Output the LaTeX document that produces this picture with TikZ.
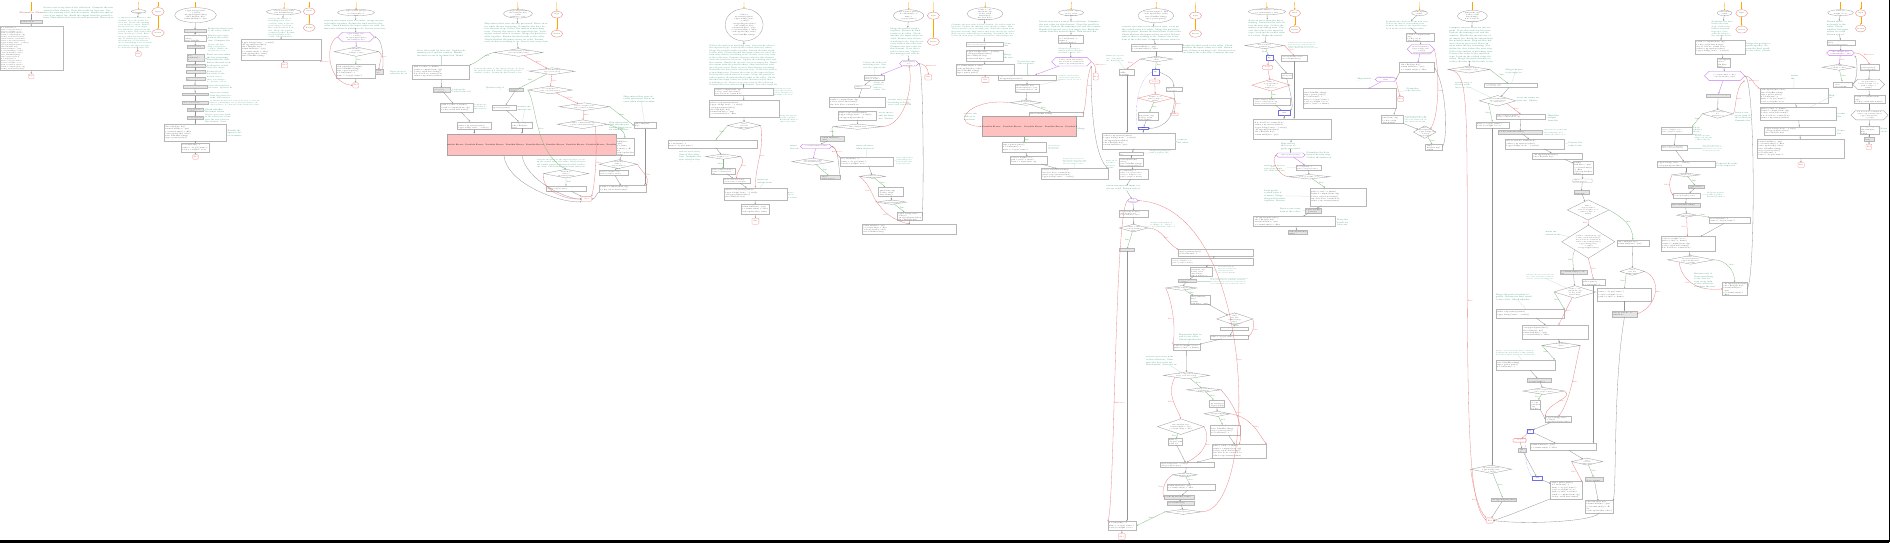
\documentclass[tikz,border=0pt]{standalone}
\usepackage{fontspec}
\usetikzlibrary{arrows.meta,shapes.geometric}
\definecolor{cmt}{RGB}{60,150,110}
\definecolor{gt}{RGB}{30,130,30}
\definecolor{ft}{RGB}{225,80,80}
\definecolor{vio}{RGB}{195,120,235}
\definecolor{pinkf}{RGB}{255,192,192}
\definecolor{blu}{RGB}{110,110,235}
\definecolor{org}{RGB}{255,165,0}
\newcount\mycla \newcount\myclb \newcount\myclc
\newcommand\plc[1]{\ifcase#1\relax result = compute(item, cfg)\or for key, val in data.items():\or if node is None: return None\or values = np.asarray(values)\or logger.debug("state: " + str(s))\or out.append(parse(line))\or idx = find(arr, key)\or return build(tree, opts)\or y = transform(x) + offset\or cache.update(key, value)\or raise ValueError(msg)\or args = parser.parse()\or n = len(items) - 1\or name = obj.get("name")\or total += weight * score\or path = join(root, fname)\fi}
\newcommand\plm[1]{\ifcase#1\relax Check whether the input values are valid.\or Return early if there is nothing to do.\or Iterate over every item of the collection.\or Compute the new value for this element.\or Store the result for later use.\or Update the running total and the counter.\or Handle the special case of an empty list.\or Build the output from the parsed tokens.\or Skip entries that were already processed.\or Raise an error when the key is missing.\or Normalise the data before the next step.\or Collect the indices of matching rows.\or Convert the value to the expected type.\or Look up the cached value if it exists.\or Merge the partial results together.\or Return the final result to the caller.\fi}
\def\clnext{\global\advance\myclc 1 \myclb=\myclc \divide\myclb 16 \multiply\myclb -16 \advance\myclb\myclc \plx{\myclb}\advance\mycla -1 \ifnum\mycla>0 \expandafter\clsep\fi}
\def\clsep{\clsepx\clnext}
\newcommand\codelines[1]{\let\plx\plc\def\clsepx{\\}\mycla=#1\relax\clnext}
\newcommand\cmtlines[1]{\let\plx\plm\def\clsepx{ }\mycla=#1\relax\clnext}
\newcommand\sz[4]{\pgfmathsetmacro\bw{((#3)-(#1))*0.34758}\pgfmathsetmacro\bh{((#4)-(#2))*0.34758}}
\tikzset{
 box/.style={rectangle,draw=black!28,line width=0.3pt,fill=white,inner sep=0pt,outer sep=0pt},
 gbox/.style={fill=black!10},
 dia/.style={shape=diamond,draw=black!40,line width=0.3pt,fill=white,inner sep=0pt,outer sep=0pt},
 ell/.style={shape=ellipse,draw=black!40,line width=0.3pt,fill=white,inner sep=0pt,outer sep=0pt},
 txt/.style={anchor=north west,inner sep=0.8pt,align=left,text=black!80},
 ctr/.style={anchor=center,inner sep=0pt,align=center,text=black!80},
 ctxt/.style={anchor=north west,inner sep=0pt,align=left,text=cmt},
 ar/.style={-{Stealth[length=1.6pt,width=1.4pt]},line width=0.3pt,draw=black!42},
 tr/.style={ar,draw=gt!55},
 fa/.style={ar,draw=ft!70},
 va/.style={ar,draw=vio},
 og/.style={ar,draw=org,line width=0.3pt},
 cl/.style={draw=cmt!30,line width=0.25pt},
 tl/.style={font={\fontsize{1.6}{1.8}\selectfont},text=gt,inner sep=0.4pt},
 fl/.style={font={\fontsize{1.6}{1.8}\selectfont},text=ft,inner sep=0.4pt},
 pe/.style={font={\fontsize{1.8}{2}\selectfont\bfseries},text=black!80,inner sep=0pt},
}
\newcommand\bxn[7][]{\sz{#3}{#4}{#5}{#6}%
\pgfmathsetmacro\lh{min((\bh-1.4)/#7,2.3)}\pgfmathsetmacro\fs{0.75*\lh}\pgfmathsetmacro\tw{max(\bw-2.4,2)}%
\node[box,minimum width=\bw pt,minimum height=\bh pt,#1,path picture={\node[txt,text width=\tw pt,font={\fontsize{\fs}{\lh}\selectfont}] at (path picture bounding box.north west) {\codelines{#7}};}] (#2) at ({((#3)+(#5))/2},{((#4)+(#6))/2}) {};}
\newcommand\dmn[7][]{\sz{#3}{#4}{#5}{#6}%
\pgfmathsetmacro\lh{min(0.5*\bh/#7,2.0)}\pgfmathsetmacro\fs{0.75*\lh}\pgfmathsetmacro\tw{0.5*\bw}%
\node[dia,minimum width=\bw pt,minimum height=\bh pt,#1,path picture={\node[ctr,text width=\tw pt,font={\fontsize{\fs}{\lh}\selectfont}] at (path picture bounding box.center) {\codelines{#7}};}] (#2) at ({((#3)+(#5))/2},{((#4)+(#6))/2}) {};}
\newcommand\eln[7][]{\sz{#3}{#4}{#5}{#6}%
\pgfmathsetmacro\lh{min(0.7*\bh/#7,2.2)}\pgfmathsetmacro\fs{0.75*\lh}\pgfmathsetmacro\tw{0.7*\bw}%
\node[ell,minimum width=\bw pt,minimum height=\bh pt,#1,path picture={\node[ctr,text width=\tw pt,font={\fontsize{\fs}{\lh}\selectfont}] at (path picture bounding box.center) {\codelines{#7}};}] (#2) at ({((#3)+(#5))/2},{((#4)+(#6))/2}) {};}
\newcommand\hxn[7][]{\sz{#3}{#4}{#5}{#6}%
\pgfmathsetmacro\hd{min(\bh/2,\bw/5)}\pgfmathsetmacro\lh{min(0.8*\bh/#7,2.0)}\pgfmathsetmacro\fs{0.75*\lh}\pgfmathsetmacro\tw{\bw-2*\hd}%
\node[inner sep=0pt,outer sep=0pt,minimum width=\bw pt,minimum height=\bh pt] (#2) at ({((#3)+(#5))/2},{((#4)+(#6))/2}) {};
\filldraw[fill=white,draw=vio,line width=0.35pt,#1,path picture={\node[ctr,text width=\tw pt,font={\fontsize{\fs}{\lh}\selectfont}] at (path picture bounding box.center) {\codelines{#7}};}] (#2.west) -- ([xshift=\hd pt]#2.north west) -- ([xshift=-\hd pt]#2.north east) -- (#2.east) -- ([xshift=-\hd pt]#2.south east) -- ([xshift=\hd pt]#2.south west) -- cycle;}
\newcommand\cmn[6]{\sz{#2}{#3}{#4}{#5}%
\pgfmathsetmacro\lh{min(\bh/#6,2.6)}\pgfmathsetmacro\fs{0.78*\lh}\pgfmathtruncatemacro\nn{2+\bw*\bh/(\fs*\lh*16)}%
\node[inner sep=0pt,outer sep=0pt,minimum width=\bw pt,minimum height=\bh pt] (#1) at ({((#2)+(#4))/2},{((#3)+(#5))/2}) {};
\begin{scope}\clip (#1.north west) rectangle ([yshift=-0.3pt]#1.south east);
\node[ctxt,text width=\bw pt,font={\fontsize{\fs}{\lh}\selectfont}] at (#1.north west) {\cmtlines{\nn}};\end{scope}}
\newcommand\cmt[7]{\cmn{#1}{#2}{#3}{#4}{#5}{#6}\draw[cl] (#1) -- (#7);}
\newcommand\rov[6]{\sz{#2}{#3}{#4}{#5}\node[ellipse,draw=ft!70,line width=0.35pt,fill=white,inner sep=0pt,minimum width=\bw pt,minimum height=\bh pt,font={\fontsize{1.6}{1.9}\selectfont},text=gt,align=center] (#1) at ({((#2)+(#4))/2},{((#3)+(#5))/2}) {#6};}
\newcommand\finn[5]{\sz{#2}{#3}{#4}{#5}\node[draw=ft!60,line width=0.3pt,rounded corners=0.8pt,fill=white,inner sep=0pt,minimum width=\bw pt,minimum height=\bh pt,font={\fontsize{1.7}{2}\selectfont},text=ft] (#1) at ({((#2)+(#4))/2},{((#3)+(#5))/2}) {End};}
\newcommand\smn[7][]{\sz{#3}{#4}{#5}{#6}\node[draw=black!30,line width=0.3pt,fill=white,inner sep=0pt,minimum width=\bw pt,minimum height=\bh pt,font={\fontsize{1.6}{1.9}\selectfont},#1] (#2) at ({((#3)+(#5))/2},{((#4)+(#6))/2}) {#7};}
\newcommand\bandn[5]{\sz{#2}{#3}{#4}{#5}\node[draw=black!35,line width=0.4pt,fill=pinkf,inner sep=0pt,minimum width=\bw pt,minimum height=\bh pt] (#1) at ({((#2)+(#4))/2},{((#3)+(#5))/2}) {};}
\begin{document}
\begin{tikzpicture}[x=1pt,y=-1pt]
\useasboundingbox (0,0) rectangle (1890,545);
\fill[white] (0,0) rectangle (1890,545);
% ---------------- crop 1
\begin{scope}[x=0.34758pt,y=-0.34758pt]
\node[font={\fontsize{2.3}{2.6}\selectfont},text=ft!90!black,inner sep=0.5pt] (r1) at (90,37) {Alternative Name};
\draw[og] (90,6) -- (r1);
\bxn[gbox]{a1}{58}{58}{122}{68}{1}
\draw[ar] (r1) -- (a1);
\cmt{c1}{125}{20}{330}{50}{4}{r1}
\bxn{a2}{0}{75}{182}{203}{22}
\draw[ar] (a1) -- (a2);
\finn{a3}{82}{213}{98}{226}
\draw[ar] (a2) -- (a3);
\eln{b1}{378}{28}{420}{38}{1}
\draw[og] (398,6) -- (b1);
\cmn{b2}{340}{50}{438}{135}{13}
\draw[ar] (b1) -- (b2);
\finn{b3}{390}{148}{406}{162}
\draw[ar] (b2) -- (b3);
\end{scope}
% ---------------- crop 2
\begin{scope}[shift={(158pt,0pt)},x=0.34758pt,y=-0.34758pt]
\rov{s1r1}{-18}{22}{18}{45}{Input}
\rov{s1r2}{-18}{85}{18}{105}{Return}
\draw[og] (0,6) -- (s1r1); \draw[og] (s1r1) -- (s1r2);
\eln{c2o}{48}{22}{168}{65}{4}
\draw[og] (108,6) -- (c2o);
\bxn[gbox]{s2b1}{75}{85}{138}{92}{1}
\bxn{s2b2}{75}{100}{138}{118}{2}
\bxn[gbox]{s2b3}{83}{131}{132}{139}{1}
\bxn[gbox]{s2b4}{83}{157}{132}{176}{2}
\bxn[gbox]{s2b5}{80}{186}{135}{193}{1}
\bxn[gbox]{s2b6}{80}{203}{135}{210}{1}
\bxn[gbox]{s2b7}{80}{222}{135}{230}{1}
\bxn[gbox]{s2b8}{72}{245}{140}{253}{1}
\bxn[gbox]{s2b9}{70}{267}{145}{275}{1}
\bxn[gbox]{s2b10}{70}{292}{145}{300}{1}
\bxn[gbox]{s2b11}{85}{312}{130}{320}{1}
\bxn[gbox]{s2b12}{85}{335}{130}{343}{1}
\bxn{s2b13}{18}{357}{197}{407}{6}
\bxn{s2b14}{67}{412}{148}{437}{3}
\finn{s2e}{100}{445}{116}{458}
\foreach \a/\b in {c2o/s2b1,s2b1/s2b2,s2b2/s2b3,s2b3/s2b4,s2b4/s2b5,s2b5/s2b6,s2b6/s2b7,s2b7/s2b8,s2b8/s2b9,s2b9/s2b10,s2b10/s2b11,s2b11/s2b12,s2b12/s2b13,s2b13/s2b14,s2b14/s2e} \draw[ar] (\a) -- (\b);
\cmt{s2c1}{143}{80}{215}{94}{2}{s2b1}
\cmt{s2c2}{143}{100}{210}{118}{2}{s2b2}
\cmt{s2c3}{143}{126}{205}{145}{3}{s2b3}
\cmt{s2c4}{140}{155}{212}{178}{3}{s2b4}
\cmt{s2c5}{140}{186}{205}{193}{1}{s2b5}
\cmt{s2c6}{140}{203}{195}{210}{1}{s2b6}
\cmt{s2c7}{140}{220}{200}{233}{2}{s2b7}
\cmt{s2c8}{145}{244}{215}{258}{2}{s2b8}
\cmt{s2c9}{150}{266}{218}{280}{2}{s2b9}
\cmt{s2c10}{150}{288}{300}{300}{2}{s2b10}
\cmt{s2c11}{135}{312}{200}{320}{1}{s2b11}
\cmt{s2c12}{135}{327}{210}{348}{3}{s2b12}
\cmt{s2c13}{200}{373}{255}{390}{2}{s2b13}
\eln{t2o}{312}{26}{412}{42}{2}
\draw[og] (364,6) -- (t2o);
\rov{t2r1}{418}{23}{452}{43}{Input}
\rov{t2r2}{418}{70}{452}{90}{Return}
\draw[og] (435,6) -- (t2r1); \draw[og] (t2r1) -- (t2r2);
\cmn{t2c}{318}{52}{392}{105}{8}
\bxn{t2b}{238}{113}{469}{172}{7}
\finn{t2e}{355}{180}{373}{195}
\draw[ar] (t2o) -- (t2c); \draw[ar] (t2c) -- (t2b); \draw[ar] (t2b) -- (t2e);
\end{scope}
% ---------------- crop 3
\begin{scope}[shift={(316pt,0pt)},x=0.34758pt,y=-0.34758pt]
\eln{u1}{62}{27}{168}{45}{2}
\draw[og] (116,6) -- (u1);
\cmn{u2}{22}{58}{205}{80}{3}
\hxn{u3}{62}{93}{168}{120}{3}
\dmn{u4}{52}{135}{180}{162}{2}
\bxn{u5}{57}{185}{170}{225}{5}
\bxn[gbox]{u6}{170}{200}{192}{212}{1}
\finn{u7}{106}{238}{122}{253}
\draw[ar] (u1) -- (u2); \draw[ar] (u2) -- (u3);
\draw[va] (u3) -- (u4);
\draw[tr] (u4) -- node[tl,right]{True} (u5);
\draw[ar] (u5) -- (u7);
\draw[fa] (u4.east) to[out=-30,in=90] node[fl,right,pos=.4]{False} (u6.north);
\draw[ar] (u6.north east) .. controls (195,160) and (190,110) .. (u3.east);
\draw[fa] (u3.west) .. controls (25,120) and (30,240) .. node[fl,left,pos=.5]{Exhausted} (u7.west);
\bxn{v2}{278}{187}{442}{227}{5}
\cmt{v1}{290}{143}{430}{160}{2}{v2}
\cmt{v3}{213}{203}{270}{210}{1}{v2}
\bxn[gbox]{v4}{337}{252}{385}{265}{2}
\cmt{v4c}{392}{255}{450}{262}{1}{v4}
\bxn{v5}{358}{298}{452}{322}{3}
\bxn{v6}{405}{350}{505}{373}{3}
\draw[ar] (v2) -- (v4); \draw[ar] (v4) -- (v5); \draw[ar] (v5) -- (v6);
\bandn{band1}{378}{385}{863}{447}
\begin{scope}\clip (378,385) rectangle (863,447);
\foreach \i in {0,...,8} \node[pe] at (398+58*\i,416) {Possible Errors};
\end{scope}
\draw[ar] (v6) -- (v6 |- band1.north);
\end{scope}
% ---------------- crop 4
\begin{scope}[shift={(474pt,0pt)},x=0.34758pt,y=-0.34758pt]
\eln{w1}{85}{27}{168}{52}{3}
\draw[og] (126,6) -- (w1);
\rov{w1r1}{222}{32}{255}{52}{Input}
\rov{w1r2}{222}{87}{255}{107}{Return}
\draw[og] (238,6) -- (w1r1); \draw[og] (w1r1) -- (w1r2);
\cmn{w2}{30}{66}{215}{122}{7}
\dmn{w3}{58}{140}{198}{162}{2}
\dmn{w4}{160}{195}{290}{215}{2}
\dmn{w5}{155}{248}{283}{270}{2}
\dmn{w6}{245}{296}{390}{318}{2}
\dmn{w7}{240}{345}{385}{370}{2}
\bxn[gbox]{w8}{100}{255}{140}{263}{1}
\bxn{w9}{52}{302}{120}{318}{2}
\bxn{w10}{108}{350}{168}{368}{2}
\bxn{w11}{408}{397}{460}{445}{5}
\dmn{w12}{360}{460}{470}{485}{2}
\bxn{w13}{360}{490}{443}{505}{2}
\bxn{w14}{360}{533}{495}{552}{2}
\dmn{w15}{200}{487}{330}{512}{2}
\bxn{w16}{207}{535}{322}{550}{2}
\finn{w17}{310}{565}{338}{580}
\bxn{w18}{460}{352}{523}{370}{2}
\cmt{w20}{430}{275}{530}{290}{2}{w18}
\cmt{wc1}{0}{195}{150}{208}{2}{w4}
\cmt{wc2}{35}{250}{95}{258}{1}{w8}
\cmt{wc3}{0}{300}{48}{312}{2}{w9}
\cmt{wc4}{125}{305}{168}{315}{1}{w10}
\cmt{wc5}{388}{350}{455}{372}{3}{w7}
\cmt{wc6}{180}{458}{330}{478}{3}{w15}
\draw[ar] (w1) -- (w2); \draw[ar] (w2) -- (w3);
\draw[tr] (w3.west) to[out=190,in=20] node[tl,below,pos=.25]{True} (v2.north east);
\draw[fa] (w3) -- node[fl,right,pos=.5]{False} (w4);
\draw[tr] (w4) -- node[tl,above left,pos=.5]{True} (w8);
\draw[fa] (w4) -- node[fl,right]{False} (w5);
\draw[ar] (w8) -- (w9); \draw[ar] (w9) -- (w10);
\draw[ar] (w10) -- (w10 |- band1.north);
\draw[tr] (w5.west) .. controls (180,300) and (175,440) .. node[tl,right,pos=.5]{True} (w15.north);
\draw[fa] (w5) -- node[fl,right]{False} (w6);
\draw[tr] (w6.east) -- node[tl,above,pos=.5]{True} (w18.west);
\draw[fa] (w6) -- node[fl,right]{False} (w7);
\draw[tr] (w7.east) to[out=-20,in=90] node[tl,right,pos=.5]{True} (w11.north);
\draw[fa] (w7.south east) .. controls (355,420) and (350,520) .. node[fl,right,pos=.5]{False} (w17.north east);
\draw[ar] (w11) -- (w12);
\draw[tr] (w12) -- node[tl,right]{True} (w13);
\draw[fa] (w12.east) to[out=-60,in=60] node[fl,right]{False} (w14.north east);
\draw[ar] (w13) -- (w14);
\draw[ar] (w14.south west) to[out=-150,in=0] (w17.east);
\draw[tr] (w15) -- node[tl,right]{True} (w16);
\draw[fa] (w15.west) .. controls (190,540) and (250,575) .. node[fl,left]{False} (w17.west);
\draw[ar] (w16) -- (w17);
\draw[ar] (w18) -- (w18 |- w14.north);
\draw[ar] (band1.south -| w9) .. controls (95,530) and (250,585) .. (w17.south west);
\draw[ar] (band1.south -| w10) .. controls (150,520) and (270,575) .. (w17.west);
\end{scope}
% ---------------- crop 5
\begin{scope}[shift={(632pt,0pt)},x=0.34758pt,y=-0.34758pt]
\eln{x1}{268}{25}{377}{118}{8}
\draw[og] (322,6) -- (x1);
\cmn{x2}{222}{128}{420}{242}{16}
\bxn{x3}{237}{253}{405}{275}{3}
\bxn{x4}{222}{288}{422}{338}{6}
\dmn{x5}{275}{350}{370}{372}{2}
\bxn{x6}{103}{402}{360}{425}{3}
\dmn{x7}{212}{443}{312}{458}{1}
\bxn{x8}{227}{485}{297}{500}{2}
\bxn{x9}{262}{513}{340}{527}{2}
\bxn{x10}{265}{540}{445}{575}{4}
\bxn{x11}{313}{588}{395}{617}{3}
\finn{x12}{345}{628}{365}{645}
\foreach \a/\b in {x1/x2,x2/x3,x3/x4,x4/x5,x6/x7,x8/x9,x9/x10,x10/x11,x11/x12} \draw[ar] (\a) -- (\b);
\draw[tr] (x5.west) -- node[tl,above,pos=.5]{True} (x6);
\draw[fa] (x5.east) to[out=-80,in=90] node[fl,right]{False} (x10.north);
\draw[tr] (x7) -- node[tl,left]{True} (x8);
\draw[fa] (x7.east) to[out=-40,in=90] node[fl,right]{False} (x9);
\cmt{xc1}{408}{255}{470}{272}{3}{x3}
\cmt{xc2}{425}{332}{480}{350}{3}{x4}
\cmt{xc3}{135}{435}{205}{465}{4}{x7}
\cmt{xc4}{360}{516}{405}{524}{1}{x10}
\cmt{xc5}{448}{553}{480}{566}{2}{x10}
\end{scope}
% ---------------- crop 6
\begin{scope}[shift={(790pt,0pt)},x=0.34758pt,y=-0.34758pt]
\eln{y1}{297}{28}{385}{62}{3}
\draw[og] (342,6) -- (y1);
\rov{y1r1}{395}{35}{430}{55}{Input}
\rov{y1r2}{395}{110}{430}{130}{Return}
\draw[og] (412,6) -- (y1r1); \draw[og] (y1r1) -- (y1r2);
\cmn{y2}{288}{80}{385}{160}{11}
\hxn{y3}{315}{175}{370}{190}{2}
\finn{y4}{388}{215}{408}{230}
\bxn{y5}{212}{215}{272}{230}{2}
\bxn[rounded corners=1pt]{y6}{185}{245}{232}{255}{1}
\bxn{y7}{112}{280}{275}{308}{3}
\bxn{y8}{138}{320}{248}{345}{3}
\dmn{y9}{125}{357}{265}{372}{1}
\bxn[gbox]{y10}{88}{393}{155}{405}{1}
\hxn{y11}{30}{415}{120}{428}{1}
\dmn{y12}{5}{455}{125}{475}{2}
\bxn[gbox]{y13}{88}{505}{145}{515}{1}
\bxn{y14}{145}{453}{298}{477}{3}
\dmn{y15}{200}{502}{275}{513}{1}
\bxn{y16}{255}{538}{325}{565}{3}
\dmn{y17}{250}{575}{335}{588}{1}
\bxn{y18}{308}{610}{380}{633}{3}
\bxn{y19}{208}{645}{478}{673}{4}
\draw[ar] (y1) -- (y2); \draw[ar] (y2) -- (y3);
\draw[va] (y3) -- (y5);
\draw[fa] (y3.east) to[out=0,in=90] node[fl,above right,pos=.5]{Exhausted} (y4.north);
\foreach \a/\b in {y5/y6,y6/y7,y7/y8,y8/y9,y10/y11,y14/y15,y16/y17,y18/y19} \draw[ar] (\a) -- (\b);
\draw[tr] (y9.west) to[out=190,in=60] node[tl,below,pos=.5]{True} (y10.north);
\draw[fa] (y9.east) .. controls (330,362) and (355,250) .. node[fl,right,pos=.5]{False} (y3.south);
\draw[va] (y11) -- (y12);
\draw[tr] (y12) -- node[tl,right,pos=.5]{True} (y13);
\draw[ar] (y13.east) .. controls (140,490) and (140,425) .. (y11.east);
\draw[fa] (y11.east) to[out=-10,in=150] node[fl,above,pos=.6]{Exhausted} (y14.north west);
\draw[tr] (y15) -- node[tl,right,pos=.5]{True} (y16);
\draw[fa] (y15.west) .. controls (230,530) and (240,570) .. node[fl,left,pos=.5]{False} (y17.west);
\draw[tr] (y17) -- node[tl,right,pos=.5]{True} (y18);
\draw[fa] (y17.west) .. controls (270,610) and (290,630) .. node[fl,left,pos=.5]{False} (y19.north);
\draw[ar] (y18.east) .. controls (385,600) and (385,200) .. (y3.east);
\cmt{yc1}{210}{178}{280}{192}{2}{y5}
\cmt{yc2}{240}{236}{280}{256}{3}{y6}
\cmt{yc3}{282}{286}{350}{300}{2}{y7}
\cmt{yc4}{255}{323}{300}{340}{2}{y8}
\cmt{yc5}{0}{418}{28}{428}{1}{y11}
\cmt{yc6}{190}{418}{250}{426}{1}{y14}
\cmt{yc7}{305}{453}{355}{470}{3}{y14}
\end{scope}
% ---------------- crop 7
\begin{scope}[shift={(948pt,0pt)},x=0.34758pt,y=-0.34758pt]
\eln{z1}{55}{22}{158}{57}{4}
\draw[og] (108,6) -- (z1);
\cmn{z2}{10}{68}{198}{108}{6}
\bxn{z3}{52}{120}{158}{133}{2}
\bxn{z4}{52}{143}{158}{175}{4}
\bxn{z5}{22}{185}{190}{217}{4}
\finn{z6}{97}{222}{118}{237}
\foreach \a/\b in {z1/z2,z2/z3,z3/z4,z4/z5,z5/z6} \draw[ar] (\a) -- (\b);
\cmt{zc1}{162}{122}{180}{130}{1}{z3}
\cmt{zc2}{160}{155}{192}{165}{1}{z4}
\eln{q1}{318}{28}{390}{45}{2}
\draw[og] (355,6) -- (q1);
\cmn{q2}{262}{60}{445}{90}{4}
\bxn{q3}{318}{100}{390}{125}{3}
\cmn{q4}{318}{137}{385}{150}{2}
\hxn{q5}{298}{165}{412}{190}{3}
\finn{q6}{418}{210}{432}{230}
\bxn{q7}{143}{215}{312}{232}{2}
\bxn{q8}{192}{243}{262}{265}{3}
\dmn{q9}{180}{288}{268}{303}{1}
\bxn{q10}{232}{322}{388}{333}{1}
\bandn{band2}{97}{335}{370}{393}
\begin{scope}\clip (97,335) rectangle (370,393);
\foreach \i in {125,185,246,305,364} \node[pe] at (\i,364) {Possible Errors};
\end{scope}
\bxn{q12}{155}{410}{283}{438}{3}
\bxn{q13}{178}{450}{285}{472}{3}
\bxn{q14}{268}{485}{460}{515}{4}
\foreach \a/\b in {q1/q2,q2/q3,q3/q4,q4/q5,q7/q8,q8/q9,q12/q13,q13/q14} \draw[ar] (\a) -- (\b);
\draw[va] (q5) -- (q7);
\draw[tr] (q9) -- node[tl,right]{True} (q10);
\draw[fa] (q9.west) .. controls (60,280) and (0,360) .. (band2.west);
\draw[tr] (band2.south -| q12) -- node[tl,right]{True} (q12);
\draw[fa] (q5.east) to[out=-30,in=90] node[fl,above right]{Exhausted} (q6);
\draw[fa] (q5.south east) .. controls (395,230) and (400,300) .. node[fl,right,pos=.4]{False} (q10.east);
\draw[ar] (q14.north east) .. controls (408,440) and (412,220) .. (q5.south east);
\cmt{qc1}{200}{175}{255}{182}{1}{q7}
\cmt{qc2}{318}{218}{385}{228}{2}{q8}
\cmn{qc3}{45}{326}{95}{342}{2}
\cmt{qc4}{372}{368}{398}{376}{1}{band2}
\cmt{qc5}{288}{418}{322}{428}{2}{q12}
\cmt{qc6}{330}{455}{400}{470}{3}{q14}
\end{scope}
% ---------------- crop 8
\begin{scope}[shift={(1106pt,0pt)},x=0.34758pt,y=-0.34758pt]
\eln{p1}{92}{25}{195}{65}{4}
\draw[og] (145,6) -- (p1);
\rov{p1r1}{240}{35}{275}{55}{Input}
\rov{p1r2}{240}{87}{275}{107}{Return}
\draw[og] (258,6) -- (p1r1); \draw[og] (p1r1) -- (p1r2);
\cmn{p2}{45}{75}{218}{112}{5}
\bxn{p3}{72}{128}{218}{148}{2}
\dmn{p5}{98}{162}{192}{178}{1}
\bxn{p6}{38}{198}{82}{215}{2}
\smn[draw=blu]{p7}{132}{200}{152}{215}{try}
\smn[draw=ft!70,rounded corners=1pt,text=ft]{p8}{125}{230}{155}{240}{except}
\bxn{p9}{172}{250}{218}{262}{2}
\dmn[draw=ft!70]{p10}{92}{270}{192}{295}{2}
\bxn{p11}{92}{322}{150}{345}{3}
\finn{p12}{185}{325}{208}{333}
\smn[draw=blu]{p13}{92}{365}{122}{373}{end}
\bxn{p14}{-10}{382}{198}{428}{5}
\bxn{p15}{38}{437}{108}{447}{1}
\bxn{p16}{38}{455}{108}{478}{3}
\bxn{p17}{38}{488}{122}{515}{4}
\cmn{p18}{0}{533}{110}{548}{2}
\hxn{p19}{62}{572}{92}{582}{1}
\bxn{p20}{38}{605}{122}{625}{3}
\dmn{p21}{38}{645}{120}{667}{2}
\bxn[gbox]{p22}{38}{715}{82}{722}{1}
\bxn{p23}{208}{718}{422}{737}{2}
\bxn{p24}{188}{742}{422}{762}{3}
\bxn{p25}{242}{768}{305}{795}{4}
\bxn[gbox]{p26}{208}{803}{260}{812}{1}
\dmn{p27}{172}{822}{262}{835}{1}
\bxn{p28}{242}{850}{300}{875}{3}
\dmn{p29}{318}{900}{422}{935}{3}
\bxn{p30}{328}{940}{408}{950}{1}
\bxn{p31}{300}{965}{408}{975}{1}
\bxn{p32}{192}{990}{272}{1008}{2}
\dmn{p33}{165}{1070}{298}{1090}{2}
\dmn{p34}{232}{1115}{330}{1128}{1}
\bxn{p35}{298}{1150}{340}{1170}{2}
\dmn{p36}{282}{1183}{358}{1198}{1}
\dmn{p37}{148}{1205}{282}{1250}{3}
\bxn{p38}{300}{1222}{385}{1252}{4}
\bxn{p39}{178}{1262}{218}{1280}{2}
\bxn{p40}{305}{1278}{462}{1318}{5}
\bxn{p41}{155}{1330}{310}{1345}{2}
\dmn{p42}{192}{1360}{262}{1372}{1}
\bxn{p43}{175}{1393}{315}{1410}{2}
\bxn[gbox]{p44}{168}{1425}{255}{1437}{1}
\bxn[gbox]{p45}{175}{1443}{255}{1452}{1}
\dmn{p46}{170}{1465}{275}{1480}{1}
\bxn{p47}{5}{1500}{88}{1525}{3}
\finn{p48}{35}{1535}{55}{1552}
\foreach \a/\b in {p1/p2,p2/p3,p3/p5} \draw[ar] (\a) -- (\b);
\draw[fa] (p5.west) -- node[fl,above left,pos=.5]{False} (p6.north);
\draw[tr] (p5) -- node[tl,right,pos=.4]{True} (p7);
\draw[fa] (p7) -- (p8);
\draw[ar] (p7.east) to[out=-20,in=90] (p9.north);
\draw[fa] (p8) -- (p10);
\draw[tr] (p10) -- node[tl,right]{True} (p11);
\draw[fa] (p10.east) to[out=-20,in=90] node[fl,right]{False} (p12.north);
\draw[ar] (p11) -- (p13);
\draw[ar] (p9.south) .. controls (205,330) and (170,370) .. (p13.east);
\draw[blu,densely dotted,line width=0.3pt] (p7.west) .. controls (90,225) and (80,330) .. (p13.west);
\draw[ar] (p6) -- (p6 |- p14.north);
\draw[ar] (p13) -- (p13 |- p14.north);
\foreach \a/\b in {p14/p15,p15/p16,p16/p17,p17/p18,p18/p19,p19/p20,p20/p21} \draw[ar] (\a) -- (\b);
\draw[tr] (p21) -- node[tl,left]{True} (p22);
\draw[fa] (p21.east) to[out=0,in=150] node[fl,above,pos=.6]{False} (p23.north west);
\draw[ar] (p22.south) -- (p22.south |- p47.north);
\foreach \a/\b in {p23/p24,p24/p25,p25/p26,p26/p27,p28/p29,p30/p31,p31/p32,p32/p33,p35/p36,p39/p41,p38/p40,p40/p41,p41/p42,p43/p44,p44/p45,p45/p46,p47/p48} \draw[ar] (\a) -- (\b);
\draw[tr] (p27) -- node[tl,right]{True} (p28);
\draw[fa] (p27.west) .. controls (195,880) and (200,960) .. node[fl,left]{False} (p32.north west);
\draw[tr] (p29) -- node[tl,right]{True} (p30);
\draw[fa] (p29.east) .. controls (430,940) and (420,960) .. node[fl,right]{False} (p31.east);
\draw[tr] (p33) -- node[tl,right]{True} (p34);
\draw[fa] (p33.south west) .. controls (170,1140) and (210,1180) .. node[fl,left]{False} (p37.north);
\draw[tr] (p34) -- node[tl,right]{True} (p35);
\draw[fa] (p34.east) .. controls (360,1150) and (400,1220) .. node[fl,right]{False} (p40.north);
\draw[tr] (p36) -- node[tl,right]{True} (p38);
\draw[fa] (p36.east) .. controls (420,1200) and (440,1250) .. node[fl,right]{False} (p40.north east);
\draw[tr] (p37) -- node[tl,left]{True} (p39);
\draw[fa] (p37.east) .. controls (300,1260) and (290,1300) .. node[fl,right]{False} (p41.north);
\draw[tr] (p42) -- node[tl,right]{True} (p43);
\draw[fa] (p42.west) .. controls (165,1380) and (160,1420) .. node[fl,left]{False} (p44.west);
\draw[tr] (p46.west) -- node[tl,above,pos=.5]{True} (p47.east);
\draw[fa] (p46.east) .. controls (440,1475) and (440,600) .. node[fl,right,pos=.5]{False} (p19.east);
\draw[fa] (p19.west) .. controls (25,600) and (25,1450) .. node[fl,right,pos=.6]{Exhausted} (p47.north west);
\cmt{pc1}{220}{128}{380}{150}{3}{p3}
\cmt{pc2}{0}{160}{60}{172}{2}{p6}
\cmt{pc3}{0}{462}{35}{480}{3}{p16}
\cmt{pc4}{205}{400}{250}{410}{1}{p14}
\cmt{pc5}{125}{432}{190}{445}{2}{p15}
\cmt{pc6}{128}{640}{200}{652}{2}{p21}
\cmt{pc8}{322}{766}{380}{782}{3}{p25}
\cmt{pc9}{300}{800}{408}{815}{3}{p26}
\cmt{pc11}{210}{960}{280}{975}{2}{p32}
\cmt{pc12}{115}{1025}{205}{1050}{3}{p33}
\end{scope}
% ---------------- crop 9
\begin{scope}[shift={(1264pt,0pt)},x=0.34758pt,y=-0.34758pt]
\eln{m1}{-45}{25}{62}{42}{2}
\draw[og] (8,6) -- (m1);
\rov{m1r1}{72}{28}{105}{48}{Input}
\rov{m1r2}{72}{75}{105}{95}{Return}
\draw[og] (88,6) -- (m1r1); \draw[og] (m1r1) -- (m1r2);
\cmn{m2}{-45}{56}{65}{100}{6}
\dmn{m3}{-55}{122}{58}{140}{1}
\cmt{mc1}{68}{122}{155}{137}{3}{m3}
\bxn{m4}{48}{160}{125}{175}{2}
\smn[draw=blu]{m5}{5}{160}{25}{172}{try}
\smn[draw=ft!70,rounded corners=1pt,text=ft]{m6}{-5}{188}{25}{200}{except}
\bxn{m7}{48}{210}{82}{225}{2}
\dmn[draw=ft!70]{m8}{-35}{228}{75}{262}{2}
\bxn{m9}{-30}{283}{75}{303}{3}
\smn[draw=blu]{m10}{40}{318}{75}{330}{end}
\bxn{m11}{-30}{342}{193}{400}{6}
\cmn{m12}{48}{410}{105}{428}{2}
\hxn{m13}{35}{440}{118}{452}{1}
\bxn{m14}{92}{475}{163}{490}{2}
\dmn{m15}{70}{502}{190}{515}{1}
\bxn{m16}{132}{540}{295}{592}{5}
\bxn[gbox]{m17}{118}{600}{163}{612}{1}
\bxn{m18}{-30}{622}{205}{652}{4}
\bxn[gbox]{m19}{68}{662}{125}{675}{1}
\draw[ar] (m1) -- (m2); \draw[ar] (m2) -- (m3);
\draw[tr] (m3) -- node[tl,left]{True} (m5);
\draw[fa] (m3.east) -- node[fl,above right]{False} (m4.north);
\draw[fa] (m5) -- (m6);
\draw[ar] (m5.east) -- (m7.north);
\draw[fa] (m6) -- (m8);
\draw[tr] (m8) -- node[tl,right]{True} (m9);
\draw[ar] (m9) -- (m10);
\draw[ar] (m7.south) .. controls (80,280) and (85,310) .. (m10.north east);
\draw[ar] (m4) -- (m4 |- m11.north);
\draw[ar] (m10) -- (m10 |- m11.north);
\draw[ar] (m11) -- (m12); \draw[ar] (m12) -- (m13);
\draw[va] (m13) -- (m14);
\draw[ar] (m14) -- (m15);
\draw[tr] (m15) -- node[tl,right]{True} (m16);
\draw[ar] (m16) -- (m17); \draw[ar] (m17) -- (m18); \draw[ar] (m18) -- (m19);
\draw[fa] (m15.west) .. controls (40,505) and (20,460) .. node[fl,left]{False} (m13.west);
\cmt{mc2}{122}{436}{198}{452}{2}{m13}
\cmt{mc3}{0}{546}{62}{580}{4}{m16}
\cmt{mc4}{45}{598}{112}{608}{1}{m17}
\cmt{mc5}{210}{630}{248}{645}{2}{m18}
\cmt{mc6}{0}{476}{65}{490}{2}{m14}
\eln{n1}{425}{30}{470}{45}{1}
\draw[og] (448,6) -- (n1);
\cmn{n2}{350}{60}{474}{80}{3}
\bxn{n3}{410}{95}{490}{118}{3}
\hxn{n4}{412}{128}{490}{155}{3}
\bxn{n5}{390}{180}{490}{208}{3}
\hxn{n6}{320}{222}{380}{235}{1}
\bxn{n7}{112}{255}{380}{312}{6}
\finn{n8}{385}{278}{402}{292}
\bxn{n9}{338}{330}{400}{355}{3}
\dmn{n10}{430}{362}{495}{398}{3}
\bxn{n11}{465}{415}{513}{432}{2}
\draw[ar] (n1) -- (n2); \draw[ar] (n2) -- (n3); \draw[ar] (n3) -- (n4);
\draw[va] (n4) -- (n5);
\draw[ar] (n5.south west) -- (n6.east);
\draw[va] (n6) -- (n7);
\draw[fa] (n6.south east) -- (n8);
\draw[ar] (n7.south east) -- (n9);
\draw[ar] (n9) -- (n10);
\draw[tr] (n10) -- node[tl,right]{True} (n11);
\draw[fa] (n4.east) .. controls (505,200) and (505,330) .. node[fl,right]{False} (n10.north east);
\draw[ar] (n11.east) .. controls (530,400) and (525,250) .. (n5.east);
\cmt{nc1}{268}{224}{315}{232}{1}{n6}
\cmt{nc2}{410}{252}{460}{262}{1}{n7}
\cmt{nc3}{405}{333}{470}{350}{3}{n9}
\end{scope}
% ---------------- crop 10
\begin{scope}[shift={(1422pt,0pt)},x=0.34758pt,y=-0.34758pt]
\eln{k1}{102}{30}{188}{62}{3}
\draw[og] (145,6) -- (k1);
\cmn{k2}{78}{78}{205}{175}{12}
\dmn{k3}{75}{190}{195}{210}{2}
\bxn{k4}{180}{240}{330}{252}{2}
\dmn{k5}{165}{275}{270}{305}{3}
\bxn{k6}{155}{350}{250}{368}{2}
\bxn{k7}{212}{328}{355}{343}{2}
\bxn[gbox]{k8}{220}{375}{345}{385}{1}
\bxn{k9}{240}{400}{410}{428}{3}
\bxn{k10}{318}{440}{460}{458}{2}
\bxn{k11}{435}{465}{493}{500}{4}
\bxn[rounded corners=1pt]{k12}{433}{515}{490}{525}{1}
\bxn[gbox]{k13}{437}{548}{480}{558}{1}
\dmn{k14}{418}{575}{538}{633}{3}
\dmn{k15}{402}{648}{555}{743}{6}
\bxn{k16}{560}{690}{653}{708}{2}
\bxn[gbox]{k17}{397}{777}{474}{788}{1}
\dmn{k18}{570}{770}{640}{792}{2}
\bxn{k19}{460}{803}{526}{820}{2}
\bxn{k20}{505}{830}{660}{865}{3}
\dmn{k21}{380}{822}{500}{858}{2}
\bxn[gbox]{k22}{547}{895}{618}{912}{1}
\bxn{k23}{212}{890}{410}{915}{2}
\bxn{k24}{288}{935}{478}{975}{4}
\dmn{k25}{345}{985}{455}{1003}{1}
\bxn{k26}{212}{1035}{382}{1065}{3}
\bxn[gbox]{k27}{303}{1088}{372}{1100}{1}
\dmn{k28}{290}{1115}{410}{1135}{2}
\bxn{k29}{312}{1150}{340}{1178}{4}
\bxn{k30}{355}{1198}{430}{1215}{2}
\smn[draw=blu]{k31}{302}{1235}{320}{1245}{try}
\smn[draw=ft!70,text=ft,rounded corners=1pt]{k32}{262}{1262}{300}{1272}{except}
\bxn[gbox]{k33}{278}{1290}{300}{1302}{1}
\bxn{k34}{310}{1275}{500}{1295}{2}
\dmn{k35}{430}{1318}{520}{1338}{2}
\smn[draw=blu]{k36}{318}{1370}{345}{1380}{end}
\bxn{k37}{370}{1385}{460}{1435}{7}
\bxn[gbox]{k38}{470}{1372}{520}{1383}{1}
\dmn{k39}{140}{1338}{258}{1362}{2}
\bxn[gbox]{k40}{198}{1432}{270}{1443}{1}
\finn{k41}{185}{1490}{205}{1505}
\bxn{k44}{470}{1440}{550}{1475}{4}
\draw[ar] (k1) -- (k2); \draw[ar] (k2) -- (k3);
\draw[tr] (k3.east) -- node[tl,above right]{True} (k4);
\draw[fa] (k3.west) .. controls (130,205) and (130,260) .. (130,700) .. controls (130,1300) and (140,1450) .. node[fl,right,pos=.1]{False} (k41.west);
\draw[ar] (k4) -- (k5);
\draw[tr] (k5.south west) -- node[tl,left]{True} (k6.north);
\draw[fa] (k5.south east) -- node[fl,right]{False} (k7.north);
\foreach \a/\b in {k7/k8,k8/k9,k9/k10,k10/k11,k11/k12,k12/k13,k13/k14,k16/k18,k20/k22,k17/k21,k23/k24,k24/k25,k26/k27,k27/k28,k30/k31,k31/k34,k32/k33,k33/k36,k34/k35,k36/k37,k38/k44,k40/k41} \draw[ar] (\a) -- (\b);
\draw[fa] (k14) -- node[fl,left]{False} (k15);
\draw[tr] (k14.east) to[out=-30,in=90] node[tl,right]{True} (k16.north);
\draw[tr] (k15.south west) to[out=-120,in=90] node[tl,left]{True} (k17.north);
\draw[fa] (k15.south) -- node[fl,right]{False} (k19.north);
\draw[tr] (k18.south west) -- node[tl,left]{True} (k20.north);
\draw[fa] (k18.east) .. controls (690,800) and (680,880) .. node[fl,right]{False} (k22.east);
\draw[ar] (k19.south) -- (k19.south |- k34.north);
\cmt{kc13}{300}{790}{385}{800}{2}{k21}
\draw[tr] (k21.west) -- node[tl,above left]{True} (k23.north east);
\draw[fa] (k21) -- node[fl,right]{False} (k24);
\draw[tr] (k25.west) -- node[tl,above left]{True} (k26.north east);
\draw[fa] (k25.east) .. controls (440,1050) and (430,1150) .. node[fl,right]{False} (k30.north);
\draw[tr] (k28) -- node[tl,left]{True} (k29);
\draw[fa] (k28.east) to[out=-30,in=90] node[fl,right]{False} (k30.north west);
\draw[ar] (k29.south east) -- (k30.west);
\draw[fa] (k31) -- (k32);
\draw[tr] (k35) -- node[tl,right]{True} (k38);
\draw[fa] (k35.west) -- node[fl,left]{False} (k37.north east);
\draw[blu,densely dotted,line width=0.3pt] (k31.west) .. controls (290,1300) and (300,1350) .. (k36.west);
\draw[ar] (k37.south west) .. controls (330,1450) and (260,1480) .. (k41.east);
\draw[ar] (k44.south) .. controls (500,1500) and (300,1510) .. (k41.east);
\draw[ar] (k6) -- (k6 |- k39.north);
\draw[tr] (k39) -- node[tl,right]{True} (k40);
\draw[fa] (k39.west) .. controls (150,1420) and (165,1470) .. node[fl,left]{False} (k41.north west);
\draw[ar] (k22.south) .. controls (550,1100) and (560,1400) .. (k44.north east);
\cmt{kc1}{240}{198}{300}{210}{1}{k4}
\cmt{kc2}{95}{236}{145}{250}{2}{k5}
\cmt{kc3}{272}{280}{340}{295}{2}{k5}
\cmt{kc4}{362}{330}{400}{345}{2}{k7}
\cmt{kc5}{352}{373}{420}{385}{2}{k8}
\cmt{kc6}{420}{408}{470}{418}{1}{k9}
\cmt{kc8}{212}{845}{320}{860}{2}{k23}
\cmt{kc10}{212}{1008}{330}{1020}{2}{k26}
\cmt{kc12}{355}{665}{400}{675}{1}{k15}
\end{scope}
% ---------------- crop 11
\begin{scope}[shift={(1580pt,0pt)},x=0.34758pt,y=-0.34758pt]
\eln{h1}{395}{30}{437}{45}{1}
\draw[og] (415,6) -- (h1);
\rov{h1r1}{448}{28}{482}{48}{Input}
\rov{h1r2}{448}{75}{482}{95}{Return}
\draw[og] (465,6) -- (h1r1); \draw[og] (h1r1) -- (h1r2);
\cmn{h2}{378}{60}{440}{102}{6}
\bxn{h3}{332}{115}{475}{155}{5}
\bxn{h4}{395}{168}{432}{192}{3}
\hxn{h5}{358}{205}{474}{232}{2}
\bxn[gbox]{h6}{362}{270}{432}{280}{1}
\dmn{h7}{352}{315}{440}{340}{2}
\bxn{h8}{232}{365}{322}{385}{3}
\cmn{h9}{325}{365}{352}{385}{3}
\bxn{h10}{232}{418}{308}{432}{2}
\bxn{h11}{222}{465}{388}{482}{2}
\dmn{h12}{265}{498}{345}{508}{1}
\bxn[gbox]{h13}{312}{533}{358}{542}{1}
\bxn{h14}{268}{555}{345}{570}{2}
\bxn[gbox]{h15}{262}{585}{345}{597}{1}
\dmn{h16}{278}{613}{335}{625}{1}
\bxn{h17}{372}{625}{490}{642}{2}
\bxn{h18}{232}{680}{388}{722}{5}
\dmn{h19}{252}{735}{385}{760}{2}
\bxn{h20}{410}{812}{480}{850}{4}
\bxn{h21}{517}{255}{713}{298}{6}
\bxn{h22}{517}{308}{737}{345}{5}
\bxn{h23}{530}{365}{735}{388}{3}
\bxn{h24}{510}{400}{760}{455}{7}
\finn{h25}{627}{468}{645}{482}
\foreach \a/\b in {h1/h2,h2/h3,h3/h4,h4/h5,h6/h7,h8/h10,h10/h11,h11/h12,h13/h14,h14/h15,h15/h16,h17/h18,h18/h19,h21/h22,h22/h23,h23/h24,h24/h25} \draw[ar] (\a) -- (\b);
\draw[va] (h5) -- (h6);
\draw[tr] (h7.west) -- node[tl,above]{True} (h8.north east);
\draw[fa] (h7.east) .. controls (450,320) and (445,250) .. node[fl,right]{False} (h5.south east);
\draw[tr] (h12) -- node[tl,right]{True} (h13);
\draw[fa] (h12.west) .. controls (255,520) and (255,545) .. node[fl,left]{False} (h14.west);
\draw[tr] (h16.east) -- node[tl,above]{True} (h17.north west);
\draw[fa] (h16) -- node[fl,left]{False} (h18);
\draw[tr] (h19.east) to[out=0,in=90] node[tl,above right]{True} (h20.north);
\draw[fa] (h19.south west) .. controls (290,800) and (330,840) .. node[fl,left]{False} (h20.west);
\draw[ar] (h20.east) .. controls (505,820) and (505,240) .. (h5.east);
\draw[fa] (h5.east) to[out=0,in=150] node[fl,above,pos=.6]{Exhausted} (h21.north west);
\cmt{hc1}{478}{122}{550}{148}{3}{h3}
\cmt{hc2}{445}{322}{500}{345}{3}{h7}
\cmt{hc3}{330}{388}{385}{400}{2}{h8}
\cmt{hc4}{352}{418}{410}{432}{3}{h10}
\cmt{hc5}{392}{468}{460}{478}{1}{h11}
\cmt{hc6}{365}{553}{420}{565}{2}{h14}
\cmn{hc7}{328}{785}{388}{830}{5}
\cmt{hc8}{606}{216}{625}{224}{1}{h21}
\cmt{hc9}{716}{272}{735}{280}{1}{h22}
\cmt{hc10}{740}{326}{760}{334}{1}{h22}
\cmt{hc11}{740}{374}{760}{382}{1}{h23}
\end{scope}
% ---------------- crop 12
\begin{scope}[shift={(1738pt,0pt)},x=0.34758pt,y=-0.34758pt]
\eln{g1}{258}{28}{332}{45}{1}
\draw[og] (295,6) -- (g1);
\rov{g1r1}{338}{28}{368}{48}{Input}
\rov{g1r2}{338}{72}{368}{92}{Return}
\draw[og] (353,6) -- (g1r1); \draw[og] (g1r1) -- (g1r2);
\cmn{g2}{255}{60}{320}{100}{5}
\bxn{g3}{255}{115}{338}{130}{2}
\hxn{g4}{255}{145}{335}{160}{2}
\dmn{g5}{242}{185}{338}{202}{1}
\bxn{g6}{275}{235}{328}{250}{2}
\bxn{g7}{352}{185}{405}{202}{2}
\hxn[draw=black!38]{g8}{330}{228}{422}{258}{3}
\bxn{g9}{335}{275}{422}{298}{2}
\hxn[draw=black!38]{g10}{325}{318}{432}{345}{3}
\bxn{g11}{350}{362}{405}{385}{3}
\bxn[gbox]{g12}{362}{395}{393}{405}{1}
\finn{g13}{368}{415}{385}{430}
\foreach \a/\b in {g1/g2,g2/g3,g3/g4,g7/g8,g8/g9,g9/g10,g10/g11,g11/g12,g12/g13} \draw[ar] (\a) -- (\b);
\draw[va] (g4) -- node[fl,right]{False} (g5);
\draw[tr] (g5) -- node[tl,right]{True} (g6);
\draw[ar] (g6.east) .. controls (345,240) and (345,170) .. (g4.south east);
\draw[fa] (g4.east) to[out=0,in=120] node[fl,above right]{Exhausted} (g7.north);
\cmt{gc1}{410}{368}{445}{378}{1}{g11}
\end{scope}
\draw[line width=2.2pt] (0,541.5) -- (1888.9,541.5);
\draw[line width=1.2pt] (1889.2,541.5) -- (1889.2,0);
\end{tikzpicture}
\end{document}
